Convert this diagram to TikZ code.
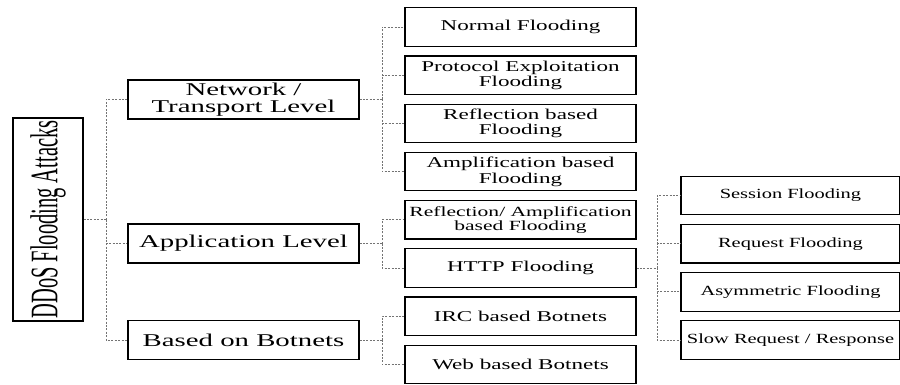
\documentclass[tikz,border=0pt]{standalone}
\usepackage{fontspec}
\setmainfont{Liberation Serif}
\newfontfamily\fA{Liberation Serif}[FakeStretch=1.6]
\newfontfamily\fB{Liberation Serif}[FakeStretch=1.54]
\newfontfamily\fC{Liberation Serif}[FakeStretch=1.46]
\begin{document}
\begin{tikzpicture}[x=1pt,y=-1pt,
  box/.style={draw=black,line width=1.2pt,fill=white,inner sep=0pt,align=center},
  rootbox/.style={box,minimum width=70pt,minimum height=203pt},
  lvlone/.style={box,minimum width=231pt,minimum height=39pt,font=\fA\fontsize{18}{17}\selectfont},
  lvltwo/.style={box,minimum width=231pt,minimum height=38.5pt,font=\fB\fontsize{15}{15.5}\selectfont},
  lvltwosmall/.style={lvltwo,font=\fB\fontsize{14}{14}\selectfont},
  lvlthree/.style={box,minimum width=219pt,minimum height=38.5pt,font=\fC\fontsize{14}{15}\selectfont},
  conn/.style={draw=black!55,line width=0.9pt,dash pattern=on 2pt off 1.4pt}]
\useasboundingbox (0,0) rectangle (900,385);
\fill[white] (0,0) rectangle (900,385);

% root
\node[rootbox] (root) at (48,219.5) {\rotatebox{90}{\scalebox{1}[1.9]{\fontsize{20.5}{20.5}\selectfont DDoS Flooding Attacks}}};

% level 1
\node[lvlone] (net) at (243.5,99.5) {Network /\\Transport Level};
\node[lvlone] (app) at (243.5,243.5) {Application Level};
\node[lvlone] (bot) at (243.5,340) {Based on Botnets};

% level 2
\node[lvltwo] (normal) at (520.5,27) {Normal Flooding};
\node[lvltwo] (proto) at (520.5,75.2) {Protocol Exploitation\\Flooding};
\node[lvltwo] (refl) at (520.5,123.4) {Reflection based\\Flooding};
\node[lvltwo] (ampl) at (520.5,171.6) {Amplification based\\Flooding};
\node[lvltwosmall] (reflampl) at (520.5,219.8) {Reflection/ Amplification\\based Flooding};
\node[lvltwo] (http) at (520.5,268) {HTTP Flooding};
\node[lvltwo] (irc) at (520.5,316.2) {IRC based Botnets};
\node[lvltwo] (web) at (520.5,364.4) {Web based Botnets};

% level 3
\node[lvlthree] (sess) at (790.5,195.5) {Session Flooding};
\node[lvlthree] (req) at (790.5,243.7) {Request Flooding};
\node[lvlthree] (asym) at (790.5,291.9) {Asymmetric Flooding};
\node[lvlthree] (slow) at (790.5,340.1) {Slow Request / Response};

% junctions
\coordinate (jroot) at (106,219.5);
\coordinate (jnet) at (382,99.5);
\coordinate (japp) at (382,243.5);
\coordinate (jbot) at (382,340);
\coordinate (jhttp) at (657,268);

% connectors
\draw[conn] (root.east) -- (jroot);
\foreach \c in {net,app,bot} \draw[conn] (jroot) |- (\c.west);

\draw[conn] (net.east) -- (jnet);
\foreach \c in {normal,proto,refl,ampl} \draw[conn] (jnet) |- (\c.west);

\draw[conn] (app.east) -- (japp);
\foreach \c in {reflampl,http} \draw[conn] (japp) |- (\c.west);

\draw[conn] (bot.east) -- (jbot);
\foreach \c in {irc,web} \draw[conn] (jbot) |- (\c.west);

\draw[conn] (http.east) -- (jhttp);
\foreach \c in {sess,req,asym,slow} \draw[conn] (jhttp) |- (\c.west);
\end{tikzpicture}
\end{document}
